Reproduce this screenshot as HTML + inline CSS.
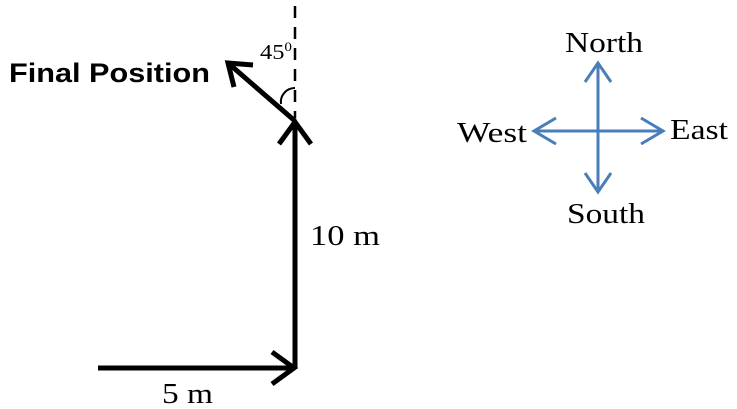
<!DOCTYPE html>
<html><head><style>
html,body{margin:0;padding:0;background:#fff;}
svg{display:block;}
</style></head><body>
<svg width="737" height="409" viewBox="0 0 737 409" xmlns="http://www.w3.org/2000/svg">
<line x1="295" y1="6" x2="295" y2="118" stroke="#000" stroke-width="2.5" stroke-dasharray="12,9"/>
<path d="M281,104 A14,14 0 0 1 295,88" fill="none" stroke="#000" stroke-width="2"/>
<g stroke="#000" stroke-width="5" fill="none" stroke-linecap="butt" stroke-linejoin="miter">
<line x1="98" y1="368" x2="294" y2="368"/>
<polyline points="272,352 294,368 272,384"/>
<line x1="295" y1="368" x2="295" y2="122"/>
<polyline points="279,144 295,122 311,144"/>
<line x1="295" y1="121" x2="228" y2="63"/>
<polyline points="234,87 228,63 253,65"/>
</g>
<g stroke="#4a7ebb" stroke-width="3" fill="none">
<line x1="598" y1="63" x2="598" y2="192"/>
<line x1="534" y1="131" x2="663" y2="131"/>
<polyline points="585,82 598,63 611,82"/>
<polyline points="585,173 598,192 611,173"/>
<polyline points="556,118 534,131 556,144"/>
<polyline points="641,118 663,131 641,144"/>
</g>
<g font-family="'Liberation Serif',serif" font-size="29" fill="#000">
<text x="565" y="52" textLength="78" lengthAdjust="spacingAndGlyphs">North</text>
<text x="567" y="223" textLength="78" lengthAdjust="spacingAndGlyphs">South</text>
<text x="457" y="142" textLength="70" lengthAdjust="spacingAndGlyphs">West</text>
<text x="670" y="139" textLength="58" lengthAdjust="spacingAndGlyphs">East</text>
<text x="310" y="245" textLength="70" lengthAdjust="spacingAndGlyphs">10 m</text>
<text x="162" y="403" textLength="51" lengthAdjust="spacingAndGlyphs">5 m</text>
<text x="260" y="59" font-size="21" textLength="32" lengthAdjust="spacingAndGlyphs">45<tspan font-size="13" dy="-8">0</tspan></text>
</g>
<text x="9" y="82" font-family="'Liberation Sans',sans-serif" font-weight="bold" font-size="27" fill="#000" textLength="201" lengthAdjust="spacingAndGlyphs">Final Position</text>
</svg>
</body></html>
